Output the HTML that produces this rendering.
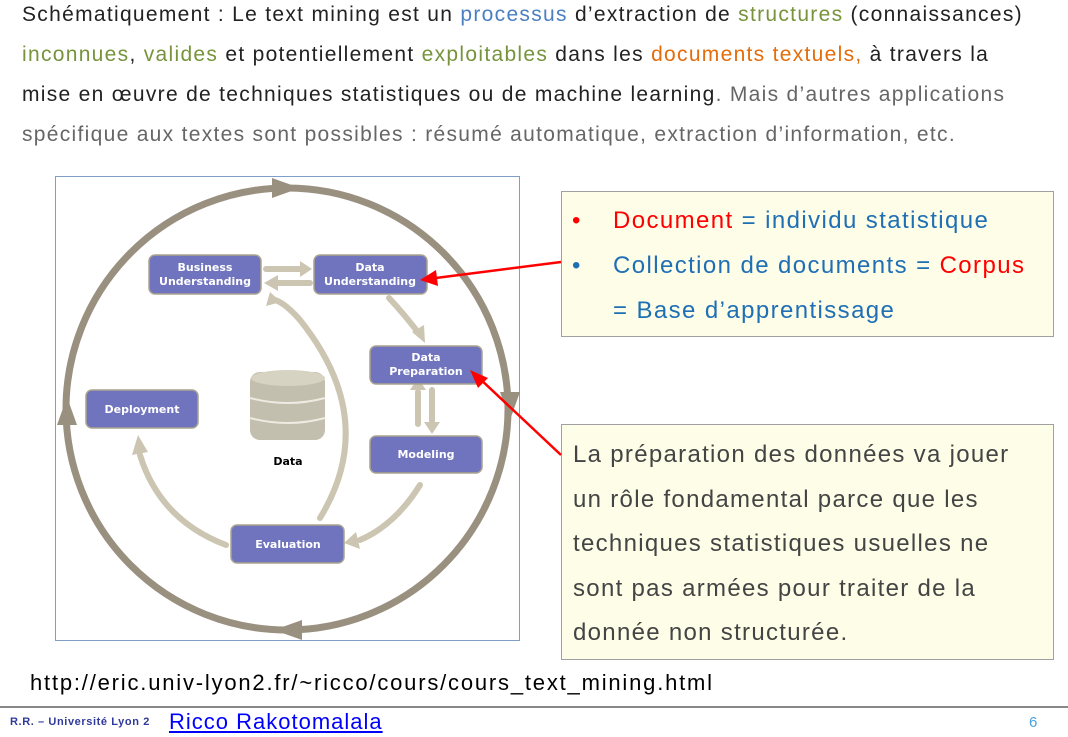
<!DOCTYPE html>
<html><head><meta charset="utf-8"><style>
body{margin:0;width:1068px;height:737px;background:#fff;position:relative;overflow:hidden;font-family:"Liberation Sans",sans-serif}
.t{position:absolute;left:22px;top:0;font-size:21px;line-height:40px;color:#222;width:1046px;letter-spacing:1.3px;white-space:nowrap}
.b{color:#4a7fc1}.g{color:#77933c}.o{color:#e46c0a}.gr{color:#666}
</style></head><body>
<div class="t" style="top:-5px">Schématiquement : Le text mining est un <span class="b">processus</span> d’extraction de <span class="g">structures</span> (connaissances)<br><span class="g">inconnues</span>, <span class="g">valides</span> et potentiellement <span class="g">exploitables</span> dans les <span class="o">documents textuels,</span> à travers la<br>mise en œuvre de techniques statistiques ou de machine learning<span class="gr">. Mais d’autres applications<br>spécifique aux textes sont possibles : résumé automatique, extraction d’information, etc.</span></div>
<svg style="position:absolute;left:0;top:0" width="1068" height="737">
<rect x="55.5" y="176.5" width="464" height="464" fill="#fff" stroke="#7f9fc8"/>
<g fill="none" stroke="#9a9080" stroke-width="7"><circle cx="287" cy="409" r="221"/></g>
<g fill="#9a9080"><polygon points="272,178 300,188 272,198"/><polygon points="302,620 274,630 302,640"/><polygon points="57,425 67,397 77,425"/><polygon points="500,392 510,420 520,392"/></g>
<g fill="none" stroke="#cbc5b1" stroke-width="6" stroke-linecap="round">
<path d="M266 269 H300"/><path d="M278 283 H310"/>
<path d="M389 298 Q405 315 420 335"/>
<path d="M418 392 V424"/><path d="M432 390 V422"/>
<path d="M420 485 Q395 525 360 540"/>
<path d="M320 518 Q380 420 300 320 Q285 303 275 300"/>
<path d="M226 545 Q160 520 140 455"/>
</g>
<g fill="#cbc5b1"><polygon points="300,261 312,269 300,277"/><polygon points="278,275 264,283 278,291"/><polygon points="412,332 425,343 424,325"/><polygon points="410,390 418,378 426,390"/><polygon points="424,422 432,434 440,422"/><polygon points="356,532 344,543 360,549"/><polygon points="270,292 266,306 281,302"/><polygon points="132,455 138,435 148,452"/></g>
<g fill="#7074be" stroke="#aaa38e" stroke-width="1.5">
<rect x="149" y="255" width="112" height="39" rx="6"/><rect x="314" y="255" width="113" height="39" rx="6"/>
<rect x="370" y="346" width="112" height="38" rx="6"/><rect x="86" y="390" width="112" height="38" rx="6"/>
<rect x="370" y="436" width="112" height="37" rx="6"/><rect x="231" y="525" width="113" height="38" rx="6"/></g>
<g fill="#fff" font-family="DejaVu Sans,sans-serif" font-weight="bold" font-size="11" text-anchor="middle">
<text x="205" y="271">Business</text><text x="205" y="285">Understanding</text>
<text x="370" y="271">Data</text><text x="370" y="285">Understanding</text>
<text x="426" y="361">Data</text><text x="426" y="375">Preparation</text>
<text x="142" y="413">Deployment</text><text x="426" y="458">Modeling</text><text x="288" y="548">Evaluation</text></g>
<g><rect x="250" y="372" width="75" height="68" rx="10" fill="#c2bfae"/><ellipse cx="288" cy="378" rx="37" ry="8" fill="#d6d3c3"/><path d="M250 398 Q288 408 325 398 M250 418 Q288 428 325 418" stroke="#eeece2" stroke-width="2" fill="none"/></g>
<text x="288" y="465" font-family="DejaVu Sans,sans-serif" font-weight="bold" font-size="11" text-anchor="middle">Data</text>
<rect x="561.5" y="191.5" width="492" height="145" fill="#fefde8" stroke="#a0a0a0"/>
<rect x="561.5" y="424.5" width="492" height="235" fill="#fefde8" stroke="#a0a0a0"/>
<g stroke="#f00" stroke-width="2.5"><line x1="561" y1="262" x2="428" y2="279"/><line x1="561" y1="455" x2="478" y2="377"/></g>
<g fill="#f00"><polygon points="420,280 436,270 438,286"/><polygon points="470,370 488,378 478,388"/></g>
<line x1="0" y1="707" x2="1068" y2="707" stroke="#888" stroke-width="2"/>
</svg>
<div style="position:absolute;left:572px;top:198px;font-size:24px;line-height:45px;color:#1f6fb5;letter-spacing:1.4px;white-space:nowrap">
<div><span style="color:#f00">•</span><span style="position:absolute;left:41px"><span style="color:#f00">Document</span> = individu statistique</span></div>
<div>•<span style="position:absolute;left:41px">Collection de documents = <span style="color:#f00">Corpus</span></span></div>
<div style="padding-left:41px">= Base d’apprentissage</div></div>
<div style="position:absolute;left:573px;top:433px;font-size:24px;line-height:44.5px;color:#444;letter-spacing:1.3px;white-space:nowrap">La préparation des données va jouer<br>un rôle fondamental parce que les<br>techniques statistiques usuelles ne<br>sont pas armées pour traiter de la<br>donnée non structurée.</div>
<div style="position:absolute;left:30px;top:670px;font-size:22px;color:#000;letter-spacing:1.8px;white-space:nowrap">http://eric.univ-lyon2.fr/~ricco/cours/cours_text_mining.html</div>
<div style="position:absolute;left:10px;top:716px;font-size:11px;font-weight:bold;color:#2f3a9c;letter-spacing:0.6px;white-space:nowrap">R.R. – Université Lyon 2</div>
<div style="position:absolute;left:169px;top:709px;font-size:22px;color:#00f;text-decoration:underline;letter-spacing:1px;white-space:nowrap">Ricco Rakotomalala</div>
<div style="position:absolute;left:1029px;top:714px;font-size:15px;color:#4a9fe0">6</div>
</body></html>
